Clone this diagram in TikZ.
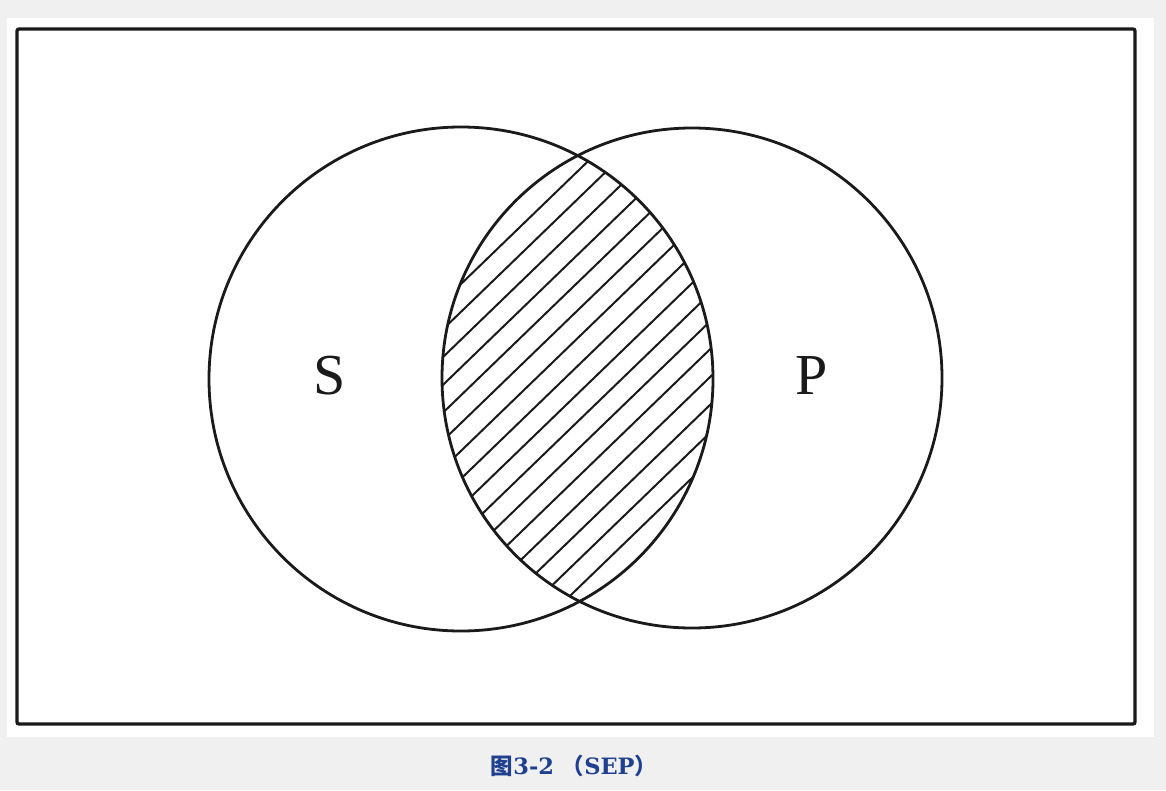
\documentclass[tikz,border=0pt]{standalone}
\usepackage{fontspec}
\setmainfont{Liberation Serif}
\newfontfamily\cjk{Noto Sans CJK SC}
\newfontfamily\capserif{DejaVu Serif}
\definecolor{bggray}{HTML}{F0F0F0}
\definecolor{ink}{HTML}{1A1A1A}
\definecolor{capblue}{HTML}{1F3F8F}
\begin{document}
\begin{tikzpicture}[x=1pt,y=-1pt,
  setcircle/.style={circle, draw=ink, line width=2.8pt, minimum size=#1, inner sep=0pt},
  hatchline/.style={draw=ink, line width=2pt},
  letter/.style={font=\fontsize{58}{60}\selectfont, text=ink, inner sep=0pt},
  caption/.style={font=\fontsize{22.5}{24}\selectfont\capserif\bfseries, text=capblue, inner sep=0pt}]
  % background and bounding box
  \fill[bggray] (0,0) rectangle (1166,790);
  \useasboundingbox (0,0) rectangle (1166,790);
  \fill[white] (7,18) rectangle (1154,737);
  % frame
  \node[draw=ink, line width=3.3pt, rounded corners=2pt, minimum width=1118pt, minimum height=695pt, inner sep=0pt] (frame) at (576,376.5) {};
  % hatching of the intersection (44 degrees, spacing 20)
  \begin{scope}
    \clip (461,379) circle (252pt);
    \clip (692,378) circle (250pt);
    \foreach \k in {0,...,15} {
      \pgfmathsetmacro{\c}{524.6+20*\k}
      \draw[hatchline] ({0.695*\c - 0.719*700}, {0.719*\c + 0.695*700}) -- ++({0.719*1400}, {-0.695*1400});
    }
  \end{scope}
  % circles
  \node[setcircle=504pt] (cS) at (461,379) {};
  \node[setcircle=500pt] (cP) at (692,378) {};
  % labels
  \node[letter] (S) at (330,376) {S};
  \node[letter] (P) at (812,376) {P};
  % caption
  \node[caption] (cap) at (574,766) {{\cjk\bfseries 图}3-2 {\cjk\bfseries （}SEP{\cjk\bfseries ）}};
\end{tikzpicture}
\end{document}
